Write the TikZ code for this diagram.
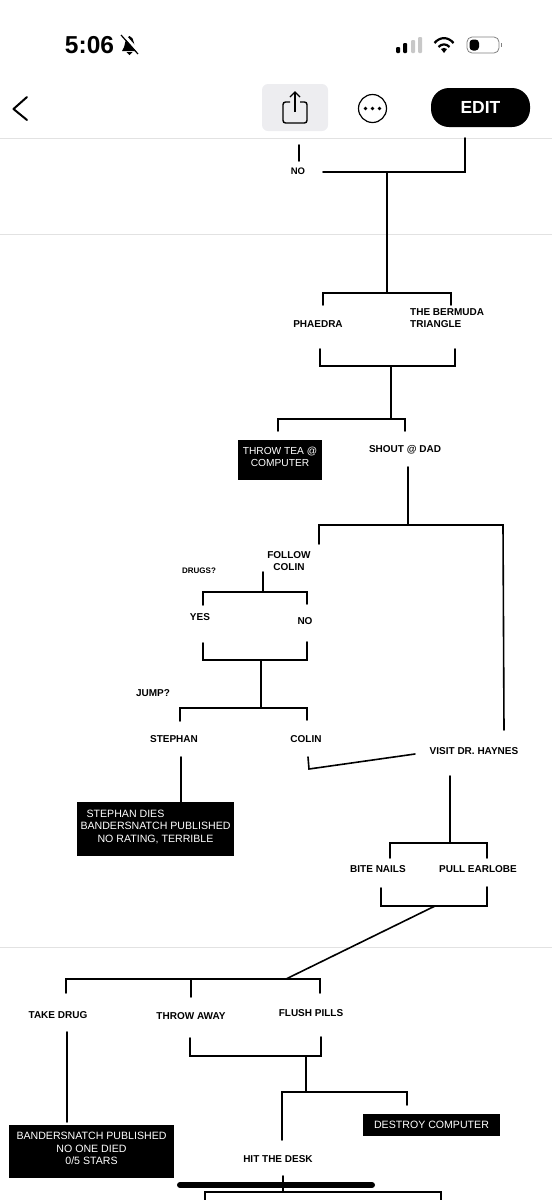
\documentclass[tikz,border=0pt]{standalone}
\usepackage{fontspec}
\setmainfont{Liberation Sans}
\usetikzlibrary{positioning}
\definecolor{rulegray}{HTML}{E2E2E2}
\definecolor{sharegray}{HTML}{EDEDF0}
\definecolor{signalgray}{HTML}{C8C8C8}

\begin{document}
\begin{tikzpicture}[
  x=1pt, y=-1pt,
  choice/.style={
    inner sep=0pt, align=center,
    font=\fontsize{10}{12.4}\selectfont\bfseries
  },
  ending/.style={
    fill=black, text=white, inner sep=0pt,
    align=center, font=\fontsize{10.6}{12.5}\selectfont
  },
  wire/.style={line width=1.6pt, line cap=round, line join=miter},
  divider/.style={rulegray, line width=1pt},
]
\useasboundingbox (0,0) rectangle (552,1200);

% Phone chrome at the top.
\node[inner sep=0pt, font=\fontsize{24.5}{24.5}\selectfont\bfseries] (clock) at (89.5,45) {5:06};
\fill (122,51) .. controls (126,47) and (124,37) .. (129.5,36)
  .. controls (135,37) and (133,47) .. (137,51) -- cycle;
\fill (126.5,52) -- (132.5,52) -- (129.5,55) -- cycle;
\draw[white, line width=3pt] (123,34) -- (140,53);
\draw[line width=1.2pt] (121,35) -- (138,54);
\fill[rounded corners=1pt] (396,47) rectangle (400,53);
\fill[rounded corners=1pt] (403,43) rectangle (407,53);
\fill[signalgray, rounded corners=1pt] (411,40) rectangle (415,53);
\fill[signalgray, rounded corners=1pt] (418,37) rectangle (422,53);
\draw[line width=2.2pt] (434.5,43) .. controls (440,36.5) and (448,36.5) .. (453.5,43);
\draw[line width=2.2pt] (438.5,47) .. controls (441.5,43.5) and (446.5,43.5) .. (449.5,47);
\fill (441,49) .. controls (443,47.5) and (445,47.5) .. (447,49) -- (444,53) -- cycle;
\draw[gray, line width=.8pt, rounded corners=5pt] (467,37) rectangle (499,53);
\fill[rounded corners=3.5pt] (469.5,39.5) rectangle (479,50.5);
\fill[gray] (500.5,43) rectangle (501.5,47);
\draw[line width=2pt, line cap=round, line join=round] (27,97) -- (13.5,109) -- (27,120);
\fill[sharegray, rounded corners=6pt] (262,84) rectangle (328,131);
\draw[line width=1.4pt, rounded corners=2.5pt] (290,102) -- (283,102) -- (283,123) -- (307,123) -- (307,102) -- (300,102);
\draw[line width=1.4pt] (295,112) -- (295,92);
\draw[line width=1.4pt] (290,97) -- (295,92) -- (300,97);
\draw[line width=1.2pt] (372.5,108.5) circle (14);
\foreach \dotx in {365.5,372.5,379.5} \fill (\dotx,108.5) circle (1.9);
\node[fill=black, text=white, rounded corners=18pt, minimum width=99pt, minimum height=39pt,
  inner sep=0pt, font=\fontsize{17.5}{17.5}\selectfont\bfseries] (edit) at (480.5,107.5) {EDIT};

% Page breaks of the screenshot.
\foreach \liney in {138,234,947} \draw[divider] (0,\liney) -- (552,\liney);

% Answers.
\node[choice, font=\fontsize{9.5}{10}\selectfont\bfseries] (no1) at (298,171) {NO};
\node[choice] (phaedra) at (318,324) {PHAEDRA};
\node[choice, align=left, anchor=west] (bermuda) at (410,318) {THE BERMUDA\\TRIANGLE};
\node[choice] (shout) at (405,450) {SHOUT @ DAD};
\node[choice] (follow) at (289,561) {FOLLOW\\COLIN};
\node[choice, font=\fontsize{8}{10}\selectfont\bfseries] (drugs) at (199,571) {DRUGS?};
\node[choice] (yes) at (200,617) {YES};
\node[choice] (no2) at (305,621) {NO};
\node[choice] (jump) at (153,693) {JUMP?};
\node[choice] (stephan) at (174,739) {STEPHAN};
\node[choice] (colin) at (306,739) {COLIN};
\node[choice] (haynes) at (474,751) {VISIT DR. HAYNES};
\node[choice] (nails) at (378,869) {BITE NAILS};
\node[choice] (earlobe) at (478,869) {PULL EARLOBE};
\node[choice] (takedrug) at (58,1015) {TAKE DRUG};
\node[choice] (throwaway) at (191,1016) {THROW AWAY};
\node[choice] (flush) at (311,1013) {FLUSH PILLS};
\node[choice] (desk) at (278,1159) {HIT THE DESK};

% Black boxes are the endings.
\node[ending, font=\fontsize{10.2}{12.5}\selectfont, minimum width=84pt, minimum height=40pt] (tea) at (280,460)
  {THROW TEA @\\COMPUTER\\[-6.5pt]\mbox{}};
\node[ending, minimum width=157pt, minimum height=54pt] (stephandies) at (155.5,829)
  {STEPHAN DIES\hspace*{60pt}\\BANDERSNATCH PUBLISHED\\NO RATING, TERRIBLE\\[-6.5pt]\mbox{}};
\node[ending, minimum width=165pt, minimum height=53pt] (nodied) at (91.5,1151.5)
  {BANDERSNATCH PUBLISHED\\NO ONE DIED\\0/5 STARS\\[-6.5pt]\mbox{}};
\node[ending, minimum width=137pt, minimum height=22pt] (destroy) at (431.5,1124.5) {DESTROY COMPUTER};

% Free ends and junctions of the wires.
\foreach \pname/\px/\py in {
  noA/299/145, noB/299/161, noC/323/172, noD/387/172, noE/465/138,
  phaL/323/305, phaM/387/293, phaR/451/305,
  pickL/320/349, pickM/391/366, pickR/455/349,
  teaL/278/431, teaM/391/419, teaR/405/431,
  dadA/408/467, dadB/408/525, dadL/319/544, dadR/503/525, dadC/504/730,
  colA/263/572, colM/263/592, colL/203/605, colR/307/604,
  ansL/203/643, ansM/261/660, ansR/307/642,
  jumpM/261/708, jumpL/180/721, jumpR/307/720,
  steA/181/757, colB/308/757, colC/309/769, visD/415/754,
  visA/450/776, visM/450/843, visL/390/858, visR/487/858,
  nailL/381/888, nailM/435/906, nailR/487/887,
  drugM/286/979, drugL/66/993, drugR/320/993, drugT/191/979, drugS/191/997,
  takeA/67/1032, takeB/67/1122,
  awayL/190/1038, awayM/306/1056, awayR/321/1037,
  deskM/306/1092, deskL/282/1140, deskR/407/1105,
  lastA/283/1176, lastM/283/1192, lastL/205/1200, lastR/441/1200}
  \coordinate (\pname) at (\px,\py);

% Top of the page.
\draw[wire] (noA) -- (noB);
\draw[wire] (noC) -- (noD) -| (noE);
\draw[wire] (noD) -- (phaM);
\draw[wire] (phaL) |- (phaM) -| (phaR);

\draw[wire] (pickL) |- (pickM) -| (pickR);
\draw[wire] (pickM) -- (teaM);
\draw[wire] (teaL) |- (teaM) -| (teaR);
\draw[wire] (dadA) -- (dadB);
\draw[wire] (dadL) |- (dadB) -- (dadR) -- (dadC);

% Follow Colin branch.
\draw[wire] (colA) -- (colM);
\draw[wire] (colL) |- (colM) -| (colR);
\draw[wire] (ansL) |- (ansM) -| (ansR);
\draw[wire] (ansM) -- (jumpM);
\draw[wire] (jumpL) |- (jumpM) -| (jumpR);
\draw[wire] (steA) -- (steA |- stephandies.north);
\draw[wire] (colB) -- (colC) -- (visD);

% Dr. Haynes branch.
\draw[wire] (visA) -- (visM);
\draw[wire] (visL) |- (visM) -| (visR);
\draw[wire] (nailL) |- (nailM) -| (nailR);
\draw[wire] (nailM) -- (drugM);
\draw[wire] (drugL) |- (drugM) -| (drugR);
\draw[wire] (drugT) -- (drugS);
\draw[wire] (takeA) -- (takeB);
\draw[wire] (awayL) |- (awayM) -| (awayR);
\draw[wire] (awayM) -- (deskM);
\draw[wire] (deskL) |- (deskM) -| (deskR);
\draw[wire] (lastL) |- (lastM) -| (lastR);

% Home indicator sits over the wires.
\draw[line width=6pt, line cap=round] (180,1185) -- (372,1185);
\draw[wire] (lastA) -- (lastM);
\end{tikzpicture}
\end{document}
